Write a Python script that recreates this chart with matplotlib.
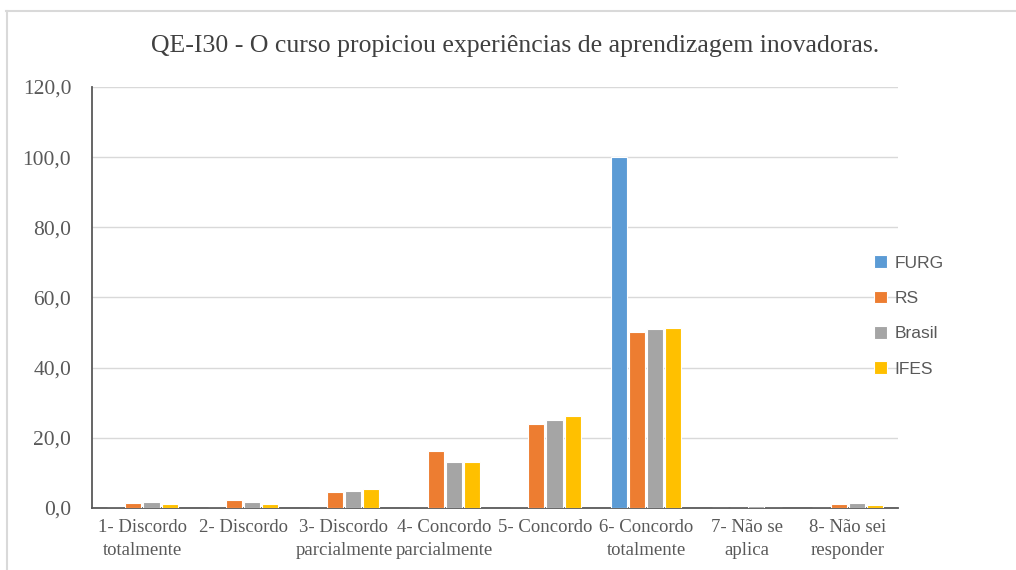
import numpy as np
import matplotlib
matplotlib.use("Agg")
import matplotlib.pyplot as plt
from matplotlib.lines import Line2D

categories = ["1- Discordo\ntotalmente", "2- Discordo", "3- Discordo\nparcialmente",
              "4- Concordo\nparcialmente", "5- Concordo", "6- Concordo\ntotalmente",
              "7- Não se\naplica", "8- Não sei\nresponder"]
series = ["FURG", "RS", "Brasil", "IFES"]
furg = [0.0, 0.0, 0.0, 0.0, 0.0, 100.0, 0.0, 0.0]
rs = [1.3, 2.3, 4.6, 16.1, 24.0, 50.3, 0.0, 1.1]
brasil = [1.7, 1.7, 4.9, 13.1, 25.2, 51.0, 0.7, 1.4]
ifes = [1.2, 1.2, 5.5, 13.1, 26.2, 51.3, 0.0, 0.8]
colors = ["#5B9BD5", "#ED7D31", "#A5A5A5", "#FFC000"]
yticks = [0, 20, 40, 60, 80, 100, 120]

fig = plt.figure(figsize=(10.16, 5.70), dpi=100)
ax = fig.add_axes([0.0906, 0.1088, 0.7933, 0.7386])

x = np.arange(len(categories))
offsets = [-0.27, -0.09, 0.09, 0.27]
for vals, name, col, off in zip([furg, rs, brasil, ifes], series, colors, offsets):
    ax.bar(x + off, vals, width=0.16, color=col, edgecolor="white", linewidth=0.8,
           label=name, zorder=3)

ax.set_xlim(-0.5, len(categories) - 0.5)
ax.set_ylim(0, 120)
ax.set_yticks(yticks)
ax.set_yticklabels([f"{v:.1f}".replace(".", ",") for v in yticks],
                   family="Liberation Serif", fontsize=15.5, color="#595959")
ax.set_xticks(x)
ax.set_xticklabels(categories, family="Liberation Serif", fontsize=13.5,
                   color="#595959", linespacing=1.45)
ax.tick_params(axis="both", length=0)
ax.tick_params(axis="y", pad=15)
ax.tick_params(axis="x", pad=8)
ax.grid(axis="y", color="#D9D9D9", linewidth=1, zorder=0)
for s in ["top", "right"]:
    ax.spines[s].set_visible(False)
ax.spines["left"].set_color("#595959")
ax.spines["bottom"].set_color("#595959")
ax.spines["left"].set_linewidth(1.3)
ax.spines["bottom"].set_linewidth(1.3)

fig.text(0.507, 0.92, "QE-I30 - O curso propiciou experiências de aprendizagem inovadoras.",
         ha="center", va="center", family="Liberation Serif", fontsize=18.5, color="#404040")

leg = ax.legend(loc="center left", bbox_to_anchor=(0.951, 0.456), frameon=False,
                handlelength=0.75, handleheight=0.75, handletextpad=0.4,
                labelspacing=1.15, prop={"family": "Liberation Sans", "size": 12.5})
for t in leg.get_texts():
    t.set_color("#595959")

# chart frame
fig.add_artist(Line2D([0.006, 1.0], [0.98, 0.98], color="#D9D9D9", linewidth=1.5))
fig.add_artist(Line2D([0.007, 0.007], [0.0, 0.98], color="#D9D9D9", linewidth=1.5))

fig.savefig("out.png", dpi=100)
